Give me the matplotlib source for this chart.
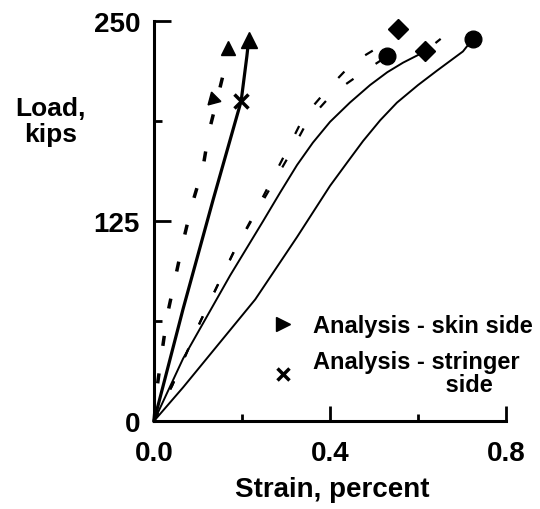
import matplotlib
matplotlib.use('Agg')
import matplotlib.pyplot as plt
from matplotlib.lines import Line2D
from matplotlib.ticker import MultipleLocator

# test curves (strain in percent, load in kips)
skin_test_strain = [0.0, 0.007, 0.018, 0.030, 0.048, 0.066, 0.086, 0.111, 0.125, 0.147, 0.162, 0.168]
skin_test_load = [0, 21, 43, 66, 89, 112, 135, 158, 181, 205, 222, 233]

stringer_test_strain = [0.0, 0.066, 0.134, 0.198, 0.211, 0.215]
stringer_test_load = [0, 70, 138, 200, 228, 238]

dash_a_strain = [0.0, 0.041, 0.070, 0.105, 0.143, 0.180, 0.223, 0.300, 0.340, 0.393, 0.452, 0.530, 0.555]
dash_a_load = [0, 22, 40, 62, 84, 105, 127, 168, 190, 207, 224, 237, 245]

dash_b_strain = [0.0, 0.041, 0.070, 0.105, 0.143, 0.180, 0.225, 0.305, 0.348, 0.407, 0.480, 0.530, 0.570]
dash_b_load = [0, 22, 40, 62, 84, 105, 127, 165, 187, 205, 219, 228, 233]

thin_a_strain = [0.0, 0.066, 0.173, 0.248, 0.287, 0.325, 0.361, 0.400, 0.445, 0.491, 0.530, 0.566, 0.616]
thin_a_load = [0, 39, 91, 125, 143, 160, 174, 187, 199, 210, 218, 224, 231]
thin_a_ext_strain = [0.616, 0.661]
thin_a_ext_load = [231, 241]

thin_b_strain = [0.0, 0.066, 0.230, 0.325, 0.400, 0.440, 0.475, 0.514, 0.552, 0.600, 0.643, 0.702, 0.725]
thin_b_load = [0, 21, 76, 115, 147, 162, 175, 188, 199, 210, 219, 231, 239]

# end markers
circle_strain = [0.530, 0.725]
circle_load = [228, 239]
diamond_strain = [0.555, 0.616]
diamond_load = [245, 231]

# analysis points
skin_analysis = (0.134, 201)
stringer_analysis = (0.198, 200)

plt.rcParams['font.family'] = ['Liberation Sans', 'DejaVu Sans']
plt.rcParams['font.weight'] = 'bold'
plt.rcParams['axes.labelweight'] = 'bold'

fig = plt.figure(figsize=(5.4, 5.1), dpi=100)
ax = fig.add_axes([0.2852, 0.1725, 0.652, 0.7843])

k = 'black'
ax.plot(thin_b_strain, thin_b_load, color=k, lw=1.4, clip_on=False)
ax.plot(thin_a_strain, thin_a_load, color=k, lw=1.4, clip_on=False)
ax.plot(thin_a_ext_strain, thin_a_ext_load, color=k, lw=1.6, dashes=(3, 3), clip_on=False)
ax.plot(dash_a_strain, dash_a_load, color=k, lw=1.6, dashes=(4, 12), clip_on=False)
ax.plot(dash_b_strain, dash_b_load, color=k, lw=1.6, dashes=(4, 12), clip_on=False)
ax.plot(stringer_test_strain, stringer_test_load, color=k, lw=2.3, clip_on=False)
ax.plot(skin_test_strain, skin_test_load, color=k, lw=2.5, dashes=(2.9, 8), clip_on=False)

# arrow heads at the last test point
ax.plot(stringer_test_strain[-1], stringer_test_load[-1], marker='^', ms=11, color=k, clip_on=False)
ax.plot(skin_test_strain[-1], skin_test_load[-1], marker='^', ms=10, color=k, clip_on=False)

ax.plot(circle_strain, circle_load, ls='none', marker='o', ms=12, color=k, clip_on=False)
ax.plot(diamond_strain, diamond_load, ls='none', marker='D', ms=10, color=k, clip_on=False)

ax.plot(*skin_analysis, marker=(3, 0, 135), ms=11, color=k, clip_on=False)
ax.plot(*stringer_analysis, marker='x', ms=10, mew=2.5, color=k, clip_on=False)

ax.set_xlim(0, 0.8)
ax.set_ylim(0, 250)
ax.xaxis.set_major_locator(MultipleLocator(0.4))
ax.xaxis.set_minor_locator(MultipleLocator(0.2))
ax.yaxis.set_major_locator(MultipleLocator(125))
ax.yaxis.set_minor_locator(MultipleLocator(62.5))

for s in ['top', 'right']:
    ax.spines[s].set_visible(False)
for s in ['left', 'bottom']:
    ax.spines[s].set_linewidth(2.2)

ax.tick_params(which='both', direction='in', width=2, labelsize=20)
ax.tick_params(axis='y', which='major', length=12, pad=10)
ax.tick_params(axis='y', which='minor', length=6)
ax.tick_params(axis='x', which='major', length=11, pad=14)
ax.tick_params(axis='x', which='minor', length=5)

ax.set_xlabel('Strain, percent', fontsize=20, va='center')
ax.xaxis.set_label_coords(0.506, -0.17)
ax.set_ylabel('Load,\nkips', fontsize=19, rotation=0, ha='center', va='center', linespacing=1.1)
ax.yaxis.set_label_coords(-0.295, 0.75)

handles = [Line2D([], [], ls='none', marker='>', ms=10, color=k),
           Line2D([], [], ls='none', marker='x', ms=9, mew=2.5, color=k)]
labels = ['Analysis - skin side', 'Analysis - stringer\n' + ' ' * 20 + 'side']
leg = ax.legend(handles, labels, loc='upper left', bbox_to_anchor=(0.332, 0.267),
                frameon=False, fontsize=17, handlelength=1.0, handletextpad=0.8,
                labelspacing=0.55, borderpad=0, borderaxespad=0)
for t in leg.get_texts():
    t.set_linespacing(1.0)

fig.savefig('out.png', dpi=100)
